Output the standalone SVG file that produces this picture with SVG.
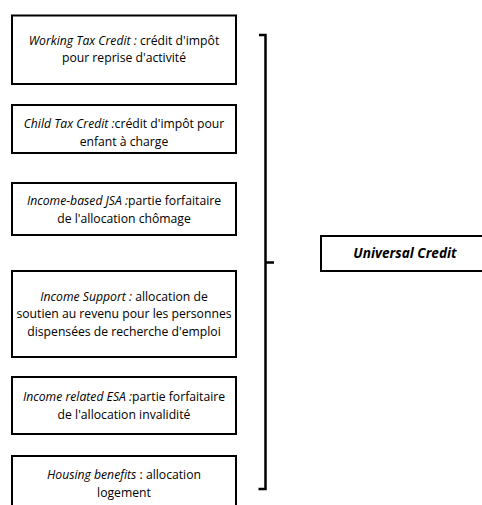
<svg xmlns="http://www.w3.org/2000/svg" width="482" height="505" viewBox="0 0 482 505">
<style>
.box{fill:#fff;stroke:#000;stroke-width:2}
.t{font-family:"Open Sans","Liberation Sans",Arial,sans-serif;font-size:12.2px;fill:#000;text-anchor:middle}
.i{font-style:italic}
.uc{font-family:"Open Sans","Liberation Sans",Arial,sans-serif;font-size:13.6px;font-weight:bold;font-style:italic;text-anchor:middle}
.br{fill:none;stroke:#000;stroke-width:2.5}
</style>
<rect width="482" height="505" fill="#fff"/>
<g id="n1"><rect class="box" x="12" y="15.5" width="224" height="68.5"/>
<text class="t" x="124" y="45"><tspan class="i">Working Tax Credit :</tspan> crédit d'impôt</text>
<text class="t" x="124" y="62">pour reprise d'activité</text></g>
<g id="n2"><rect class="box" x="12" y="105" width="224" height="48"/>
<text class="t" x="124" y="128"><tspan class="i">Child Tax Credit :</tspan>crédit d'impôt pour</text>
<text class="t" x="124" y="146">enfant à charge</text></g>
<g id="n3"><rect class="box" x="12" y="183" width="224" height="52"/>
<text class="t" x="124" y="205"><tspan class="i">Income-based JSA :</tspan>partie forfaitaire</text>
<text class="t" x="124" y="223">de l'allocation chômage</text></g>
<g id="n4"><rect class="box" x="12" y="271" width="224" height="86"/>
<text class="t" x="124" y="301"><tspan class="i">Income Support :</tspan>  allocation de</text>
<text class="t" x="124" y="318">soutien au revenu pour les personnes</text>
<text class="t" x="124" y="336">dispensées de recherche d'emploi</text></g>
<g id="n5"><rect class="box" x="12" y="377" width="224" height="57"/>
<text class="t" x="124" y="401"><tspan class="i">Income related ESA :</tspan>partie forfaitaire</text>
<text class="t" x="124" y="419">de l'allocation invalidité</text></g>
<g id="n6"><rect class="box" x="12" y="456" width="224" height="60"/>
<text class="t" x="124" y="479"><tspan class="i">Housing benefits</tspan>  : allocation</text>
<text class="t" x="124" y="497">logement</text></g>
<g id="connectors"><path class="br" d="M259,35 H265.5 V489 H258.5 M265.5,262.5 H274"/></g>
<g id="uc"><rect class="box" x="321" y="236" width="170" height="35"/>
<text class="uc" x="405" y="258">Universal Credit</text></g>
</svg>
